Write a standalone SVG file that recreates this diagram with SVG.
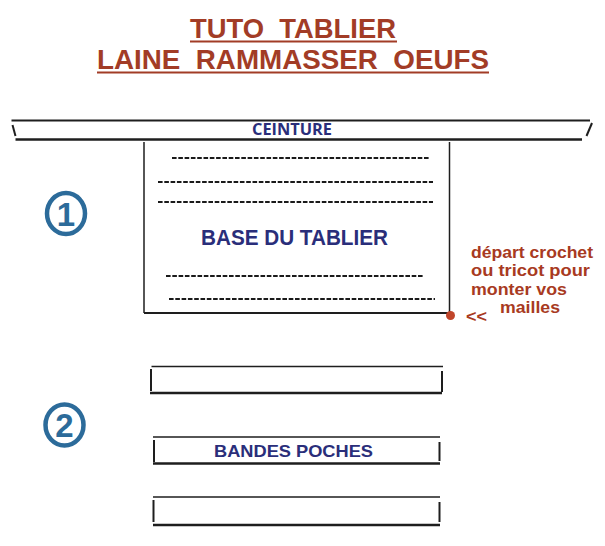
<svg xmlns="http://www.w3.org/2000/svg" width="605" height="546" viewBox="0 0 605 546">
<style>
.bg{fill:#ffffff}
.ln{stroke:#1e1e1e;stroke-linecap:butt;fill:none}
.thin{stroke-width:1.5}
.mid{stroke-width:2}
.thick{stroke-width:2.5}
.dash{stroke:#1a1a1a;stroke-width:2.2;stroke-dasharray:4.6 1.7;fill:none}
.title{font-family:"Liberation Sans",Arial,sans-serif;font-weight:bold;font-size:27px;fill:#a23c26;white-space:pre}
.uline{stroke:#a23c26;stroke-width:2}
.navy{font-family:"Liberation Sans",Arial,sans-serif;font-weight:bold;fill:#2a2e7a}
.ceint{font-family:"Open Sans","Liberation Sans",sans-serif;font-weight:bold;font-size:16px;fill:#2a2e7a}
.note{font-family:"Liberation Sans",Arial,sans-serif;font-weight:bold;font-size:16.5px;fill:#a83a22}
.num{fill:none;stroke:#2c6b9a;stroke-width:4.5}
.digit{font-family:"Liberation Sans",Arial,sans-serif;font-weight:bold;font-size:33px;fill:#2c6b9a}
</style>
<rect class="bg" x="0" y="0" width="605" height="546"/>

<g id="title">
<text class="title" transform="translate(293,37.5) scale(1,1.02)" x="0" y="0" text-anchor="middle" textLength="206" lengthAdjust="spacingAndGlyphs">TUTO  TABLIER</text>
<line class="uline" x1="190" y1="41.5" x2="397" y2="41.5"/>
<text class="title" transform="translate(293,69) scale(1,1.02)" x="0" y="0" text-anchor="middle" textLength="392" lengthAdjust="spacingAndGlyphs">LAINE  RAMMASSER  OEUFS</text>
<line class="uline" x1="97" y1="72.5" x2="489" y2="72.5"/>
</g>

<g id="ceinture">
<line class="ln mid" x1="11.5" y1="120.5" x2="590" y2="120.5"/>
<line class="ln thick" x1="15.5" y1="139.5" x2="582" y2="139.5"/>
<line class="ln mid" x1="12.5" y1="125" x2="15.5" y2="136"/>
<line class="ln mid" x1="592" y1="123" x2="586.5" y2="136"/>
<text class="ceint" x="252" y="135" textLength="80" lengthAdjust="spacingAndGlyphs">CEINTURE</text>
</g>

<g id="base">
<line class="ln thin" x1="144" y1="142" x2="144" y2="313"/>
<line class="ln thin" x1="449.5" y1="142" x2="449.5" y2="316"/>
<line class="ln mid" x1="144" y1="313" x2="450" y2="313"/>
<line class="dash" x1="172" y1="158" x2="429" y2="158"/>
<line class="dash" x1="158" y1="182" x2="433" y2="182"/>
<line class="dash" x1="158" y1="202" x2="433" y2="202"/>
<line class="dash" x1="166" y1="276" x2="423" y2="276"/>
<line class="dash" x1="169" y1="299" x2="435" y2="299"/>
<text class="navy" x="201" y="245" font-size="22" textLength="187" lengthAdjust="spacingAndGlyphs">BASE DU TABLIER</text>
<circle cx="450.5" cy="315.5" r="4.5" fill="#c0452b"/>
</g>

<g id="annotation">
<text class="note" x="471" y="258" textLength="122" lengthAdjust="spacingAndGlyphs">départ crochet</text>
<text class="note" x="471" y="276" textLength="119" lengthAdjust="spacingAndGlyphs">ou tricot pour</text>
<text class="note" x="471" y="294.5" textLength="96" lengthAdjust="spacingAndGlyphs">monter vos</text>
<text class="note" x="500" y="313" textLength="60" lengthAdjust="spacingAndGlyphs">mailles</text>
<text class="note" x="466" y="322" textLength="21" lengthAdjust="spacingAndGlyphs">&lt;&lt;</text>
</g>

<g id="num1">
<ellipse class="num" cx="66" cy="213.5" rx="19" ry="20.5"/>
<text class="digit" x="66" y="225.5" text-anchor="middle">1</text>
</g>

<g id="num2">
<ellipse class="num" cx="64.5" cy="425" rx="19" ry="20.5"/>
<text class="digit" x="64.5" y="437" text-anchor="middle">2</text>
</g>

<g id="bande1">
<line class="ln thin" x1="151.5" y1="366.5" x2="443" y2="366.5"/>
<line class="ln thick" x1="150" y1="393" x2="442" y2="393"/>
<line class="ln mid" x1="151" y1="369" x2="151" y2="391"/>
<line class="ln mid" x1="442" y1="371" x2="442" y2="392"/>
</g>

<g id="bande2">
<line class="ln thin" x1="153" y1="437" x2="440" y2="437"/>
<line class="ln thick" x1="153" y1="463.5" x2="440" y2="463.5"/>
<line class="ln mid" x1="154" y1="440" x2="154" y2="462"/>
<line class="ln mid" x1="439.5" y1="442" x2="439.5" y2="461"/>
<text class="navy" x="214" y="457" font-size="17" textLength="159" lengthAdjust="spacingAndGlyphs">BANDES POCHES</text>
</g>

<g id="bande3">
<line class="ln thin" x1="153" y1="497" x2="440" y2="497"/>
<line class="ln thick" x1="153" y1="525" x2="440" y2="525"/>
<line class="ln mid" x1="153.5" y1="500" x2="153.5" y2="522"/>
<line class="ln mid" x1="439.5" y1="502" x2="439.5" y2="522"/>
</g>

<g id="connectors"></g>
</svg>
